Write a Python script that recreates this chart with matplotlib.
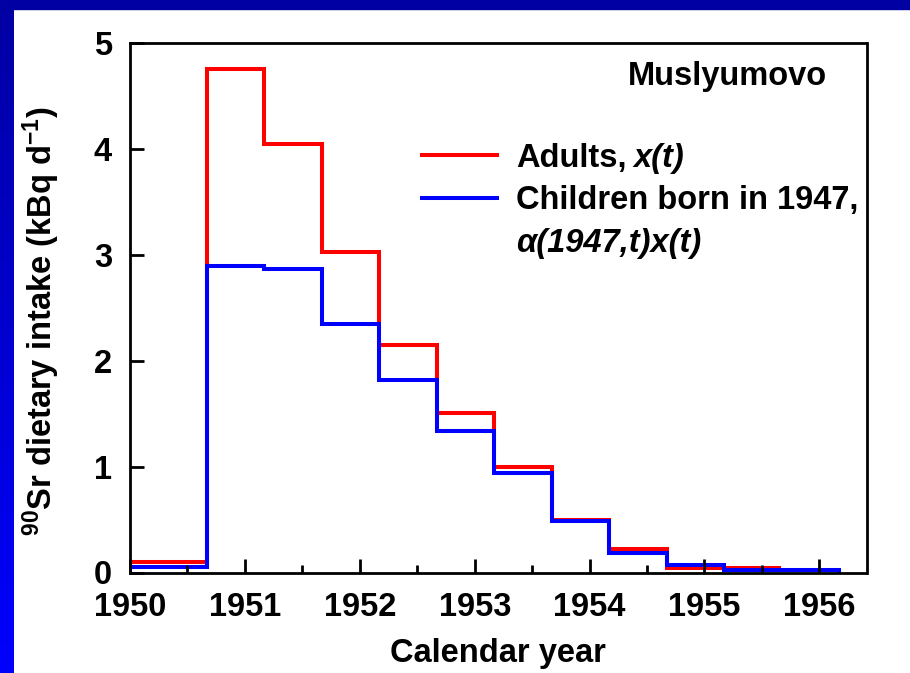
import matplotlib
matplotlib.use("Agg")
import matplotlib.pyplot as plt
import numpy as np
from matplotlib.lines import Line2D
from matplotlib.patches import Rectangle

plt.rcParams['font.family'] = ['Liberation Sans', 'DejaVu Sans']
plt.rcParams['font.weight'] = 'bold'
plt.rcParams['mathtext.fontset'] = 'custom'
plt.rcParams['mathtext.rm'] = 'Liberation Sans:bold'
plt.rcParams['mathtext.bf'] = 'Liberation Sans:bold'
plt.rcParams['mathtext.it'] = 'Liberation Sans:italic:bold'

# half-year bins (calendar year)
adult_edges = [1950.0, 1950.67, 1951.17, 1951.67, 1952.17, 1952.67, 1953.17,
               1953.67, 1954.17, 1954.67, 1955.17, 1955.67]
adult_intake = [0.10, 4.75, 4.05, 3.03, 2.15, 1.51, 1.00, 0.50, 0.22, 0.04, 0.045]

child_edges = [1950.0, 1950.67, 1951.17, 1951.67, 1952.17, 1952.67, 1953.17,
               1953.67, 1954.17, 1954.67, 1955.17, 1955.67, 1956.17]
child_intake = [0.055, 2.89, 2.87, 2.35, 1.82, 1.34, 0.94, 0.49, 0.18, 0.07, 0.02, 0.02]

year_ticks = [1950, 1951, 1952, 1953, 1954, 1955, 1956]
fs = 23.5

fig = plt.figure(figsize=(9.1, 6.73), dpi=100)
fig.patch.set_facecolor('white')

# blue slide frame: top band and left gradient strip
fig.add_artist(Rectangle((0, 1 - 9 / 673), 1, 9 / 673, transform=fig.transFigure,
                         color=(0, 0, 0.64), zorder=0))
strip = fig.add_axes([0, 0, 14 / 910, 1 - 9 / 673])
grad = np.linspace(0, 1, 256)
cols = np.zeros((256, 1, 3))
cols[:, 0, 2] = 0.64 + 0.36 * grad
strip.imshow(cols, aspect='auto', origin='upper')
strip.set_axis_off()

ax = fig.add_axes([130 / 910, 1 - 572.5 / 673, 736.5 / 910, 529.5 / 673])

ax.stairs(adult_intake, adult_edges, color='#ff0000', linewidth=2.9, baseline=None)
ax.stairs(child_intake, child_edges, color='#0000ff', linewidth=2.9, baseline=0)

ax.set_xlim(1950, 1956.41)
ax.set_ylim(0, 5)
ax.set_xticks(year_ticks)
ax.set_xticks(np.arange(1950.5, 1956.5, 1.0), minor=True)
ax.set_yticks([0, 1, 2, 3, 4, 5])
ax.tick_params(which='both', direction='in', top=False, right=False, width=2,
               labelsize=fs)
ax.tick_params(which='major', length=10)
ax.tick_params(axis='x', which='minor', length=6)
ax.tick_params(axis='x', pad=14)
ax.tick_params(axis='y', pad=13)
for lab in ax.get_xticklabels() + ax.get_yticklabels():
    lab.set_fontweight('bold')
for sp in ax.spines.values():
    sp.set_linewidth(2)

ax.set_xlabel('Calendar year', fontsize=fs, fontweight='bold', labelpad=11)
ax.set_ylabel(r'$^{90}$Sr dietary intake (kBq d$^{-1}$)', fontsize=fs,
              fontweight='bold')
ax.yaxis.set_label_coords(-0.093, 0.475)

ax.text(0.947, 0.936, 'Muslyumovo', transform=ax.transAxes, ha='right',
        va='center', fontsize=fs, fontweight='bold')

handles = [Line2D([], [], color='#ff0000', linewidth=2.9),
           Line2D([], [], color='#0000ff', linewidth=2.9),
           Line2D([], [], color='none')]
labels = ['Adults,', 'Children born in 1947,', '\u03b1(1947,t)x(t)']
leg = ax.legend(handles, labels, loc='upper left', bbox_to_anchor=(0.396, 0.812),
                frameon=False, borderpad=0, borderaxespad=0,
                handlelength=2.3, handletextpad=0.6, labelspacing=0.36,
                prop={'weight': 'bold', 'size': fs})
leg.get_texts()[2].set_fontstyle('italic')
# italic part of the first entry, placed right after "Adults,"
ax.annotate('x(t)', xy=(1, 0), xycoords=leg.get_texts()[0], xytext=(5, 0),
            textcoords='offset points', ha='left', va='bottom',
            fontsize=fs, fontweight='bold', fontstyle='italic', zorder=10)

fig.savefig('out.png', dpi=100, facecolor='white')
